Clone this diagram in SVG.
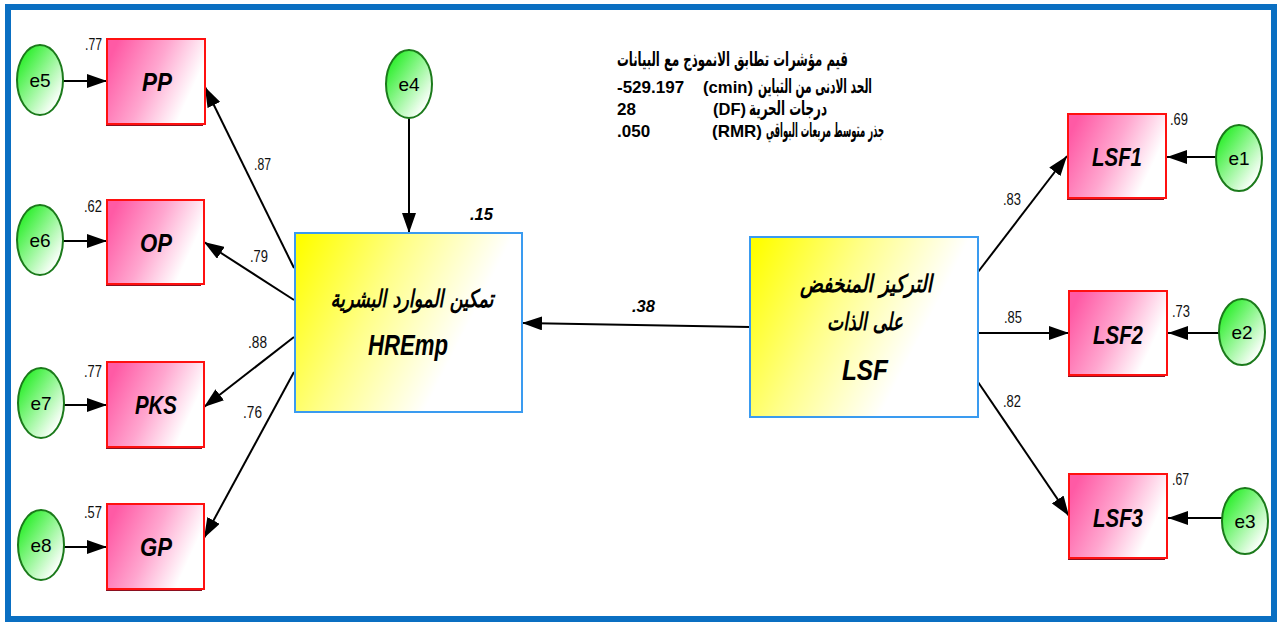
<svg xmlns="http://www.w3.org/2000/svg" width="1277" height="622" viewBox="0 0 1277 622">
<defs>
<linearGradient id="pink" x1="0" y1="0.3" x2="1" y2="0.7"><stop offset="0" stop-color="#ff5aa5"/><stop offset="0.45" stop-color="#ffa6cf"/><stop offset="0.85" stop-color="#ffffff"/></linearGradient>
<linearGradient id="yellow" x1="0" y1="0.1" x2="1" y2="0.5"><stop offset="0" stop-color="#ffff00"/><stop offset="0.4" stop-color="#ffff88"/><stop offset="0.8" stop-color="#ffffff"/></linearGradient>
<linearGradient id="green" x1="0" y1="0" x2="1" y2="1"><stop offset="0.1" stop-color="#22ee22"/><stop offset="0.85" stop-color="#ffffff"/></linearGradient>
<marker id="ah" viewBox="0 0 20 14" refX="20" refY="7" markerWidth="20" markerHeight="14" markerUnits="userSpaceOnUse" orient="auto"><path d="M0,0 L20,7 L0,14 Z" fill="#000"/></marker>
</defs>
<style>
.frame{fill:#fff;stroke:#0a6fc2;stroke-width:6}
.obs{fill:url(#pink);stroke:#ff1010;stroke-width:2}
.shd{fill:none;stroke:#8a1020;stroke-width:2}
.lat{fill:url(#yellow);stroke:#3a9bf0;stroke-width:2}
.err{fill:url(#green);stroke:#1b7a1b;stroke-width:2}
.c{stroke:#000;stroke-width:2;fill:none;marker-end:url(#ah)}
.lbl{font-family:"Liberation Sans Narrow","Liberation Sans",sans-serif;font-weight:bold;font-style:italic;font-size:26px;fill:#000;text-anchor:middle}
.ar{font-family:"DejaVu Sans","Noto Sans",sans-serif;font-weight:bold;font-style:italic;font-size:24px;fill:#000;text-anchor:middle}
.num{font-family:"Liberation Sans Narrow","Liberation Sans",sans-serif;font-size:17px;fill:#111}
.bnum{font-family:"Liberation Sans",sans-serif;font-size:17px;font-weight:bold;font-style:italic;fill:#000}
.e{font-family:"Liberation Sans Narrow","Liberation Sans",sans-serif;font-size:19px;fill:#000;text-anchor:middle}
.fit{font-family:"Liberation Sans","DejaVu Sans",sans-serif;font-size:17px;font-weight:bold;fill:#000}
.fa{font-family:"DejaVu Sans","Liberation Sans",sans-serif;font-size:20px;font-weight:bold;fill:#000;text-anchor:end}
</style>
<rect class="frame" x="8" y="7" width="1266" height="612"/>

<g id="connectors">
<line class="c" x1="63" y1="81" x2="107" y2="81"/>
<line class="c" x1="63" y1="241" x2="107" y2="241"/>
<line class="c" x1="64" y1="405" x2="107" y2="405"/>
<line class="c" x1="64" y1="547" x2="107" y2="547"/>
<line class="c" x1="409" y1="118" x2="409" y2="233"/>
<line class="c" x1="294" y1="268" x2="205" y2="87"/>
<line class="c" x1="294" y1="300" x2="204" y2="242"/>
<line class="c" x1="294" y1="337" x2="204" y2="407"/>
<line class="c" x1="294" y1="372" x2="204" y2="538"/>
<line class="c" x1="750" y1="327" x2="522" y2="323"/>
<line class="c" x1="978" y1="272" x2="1067" y2="156"/>
<line class="c" x1="978" y1="333" x2="1069" y2="333"/>
<line class="c" x1="978" y1="382" x2="1069" y2="516"/>
<line class="c" x1="1216" y1="157" x2="1167" y2="157"/>
<line class="c" x1="1220" y1="333" x2="1168" y2="333"/>
<line class="c" x1="1222" y1="518" x2="1168" y2="518"/>
</g>

<g id="PP"><path class="shd" d="M107,41 V125 H203"/><rect class="obs" x="107" y="39" width="98" height="85"/><text class="lbl" x="157" y="91" textLength="30" lengthAdjust="spacingAndGlyphs">PP</text></g>
<g id="OP"><path class="shd" d="M107,202 V285 H201"/><rect class="obs" x="107" y="200" width="97" height="84"/><text class="lbl" x="156" y="252" textLength="32" lengthAdjust="spacingAndGlyphs">OP</text></g>
<g id="PKS"><path class="shd" d="M107,364 V448 H202"/><rect class="obs" x="107" y="362" width="97" height="85"/><text class="lbl" x="156" y="414" textLength="42" lengthAdjust="spacingAndGlyphs">PKS</text></g>
<g id="GP"><path class="shd" d="M107,506 V590 H202"/><rect class="obs" x="107" y="504" width="97" height="85"/><text class="lbl" x="156" y="556" textLength="32" lengthAdjust="spacingAndGlyphs">GP</text></g>
<g id="LSF1"><path class="shd" d="M1068,116 V199 H1164"/><rect class="obs" x="1068" y="114" width="98" height="84"/><text class="lbl" x="1117" y="166" textLength="50" lengthAdjust="spacingAndGlyphs">LSF1</text></g>
<g id="LSF2"><path class="shd" d="M1069,293 V376 H1165"/><rect class="obs" x="1069" y="291" width="98" height="84"/><text class="lbl" x="1118" y="344" textLength="50" lengthAdjust="spacingAndGlyphs">LSF2</text></g>
<g id="LSF3"><path class="shd" d="M1069,476 V559 H1165"/><rect class="obs" x="1069" y="474" width="98" height="84"/><text class="lbl" x="1118" y="527" textLength="50" lengthAdjust="spacingAndGlyphs">LSF3</text></g>

<g id="HREmp"><rect class="lat" x="295" y="233" width="227" height="179"/>
<text class="ar" x="412" y="307" textLength="163" lengthAdjust="spacingAndGlyphs">تمكين الموارد البشرية</text>
<text class="lbl" x="408" y="355" style="font-size:30px" textLength="80" lengthAdjust="spacingAndGlyphs">HREmp</text></g>
<g id="LSF"><rect class="lat" x="750" y="237" width="228" height="180"/>
<text class="ar" x="866" y="292" textLength="132" lengthAdjust="spacingAndGlyphs">التركيز المنخفض</text>
<text class="ar" x="865" y="330" textLength="76" lengthAdjust="spacingAndGlyphs">على الذات</text>
<text class="lbl" x="865" y="380" style="font-size:30px" textLength="46" lengthAdjust="spacingAndGlyphs">LSF</text></g>

<g id="e5"><ellipse class="err" cx="40" cy="80" rx="23" ry="35"/><text class="e" x="40" y="87">e5</text></g>
<g id="e6"><ellipse class="err" cx="40" cy="240" rx="23" ry="35"/><text class="e" x="40" y="247">e6</text></g>
<g id="e7"><ellipse class="err" cx="41" cy="403" rx="23" ry="35"/><text class="e" x="41" y="410">e7</text></g>
<g id="e8"><ellipse class="err" cx="41" cy="545" rx="23" ry="35"/><text class="e" x="41" y="552">e8</text></g>
<g id="e4"><ellipse class="err" cx="409" cy="84" rx="23" ry="34"/><text class="e" x="409" y="91">e4</text></g>
<g id="e1"><ellipse class="err" cx="1239" cy="158" rx="23" ry="33"/><text class="e" x="1239" y="165">e1</text></g>
<g id="e2"><ellipse class="err" cx="1242" cy="332" rx="23" ry="33"/><text class="e" x="1242" y="339">e2</text></g>
<g id="e3"><ellipse class="err" cx="1245" cy="521" rx="23" ry="33"/><text class="e" x="1245" y="528">e3</text></g>

<g id="labels">
<text class="num" x="85" y="50" textLength="17" lengthAdjust="spacingAndGlyphs">.77</text>
<text class="num" x="84" y="212" textLength="18" lengthAdjust="spacingAndGlyphs">.62</text>
<text class="num" x="84" y="377" textLength="18" lengthAdjust="spacingAndGlyphs">.77</text>
<text class="num" x="84" y="518" textLength="18" lengthAdjust="spacingAndGlyphs">.57</text>
<text class="num" x="254" y="170" textLength="17" lengthAdjust="spacingAndGlyphs">.87</text>
<text class="num" x="250" y="262" textLength="18" lengthAdjust="spacingAndGlyphs">.79</text>
<text class="num" x="248" y="348" textLength="19" lengthAdjust="spacingAndGlyphs">.88</text>
<text class="num" x="243" y="418" textLength="19" lengthAdjust="spacingAndGlyphs">.76</text>
<text class="num" x="1003" y="205" textLength="18" lengthAdjust="spacingAndGlyphs">.83</text>
<text class="num" x="1004" y="323" textLength="18" lengthAdjust="spacingAndGlyphs">.85</text>
<text class="num" x="1003" y="407" textLength="18" lengthAdjust="spacingAndGlyphs">.82</text>
<text class="num" x="1170" y="125" textLength="18" lengthAdjust="spacingAndGlyphs">.69</text>
<text class="num" x="1172" y="317" textLength="18" lengthAdjust="spacingAndGlyphs">.73</text>
<text class="num" x="1172" y="485" textLength="17" lengthAdjust="spacingAndGlyphs">.67</text>
<text class="bnum" x="470" y="220" textLength="23" lengthAdjust="spacingAndGlyphs">.15</text>
<text class="bnum" x="632" y="312" textLength="23" lengthAdjust="spacingAndGlyphs">.38</text>
</g>

<g id="fit">
<text class="fa" x="848" y="66" textLength="231" lengthAdjust="spacingAndGlyphs">قيم مؤشرات تطابق الانموذج مع البيانات</text>
<text class="fit" x="617" y="93">-529.197</text>
<text class="fit" x="703" y="93" textLength="50" lengthAdjust="spacingAndGlyphs">(cmin)</text>
<text class="fa" x="872" y="93" textLength="114" lengthAdjust="spacingAndGlyphs">الحد الادنى من التباين</text>
<text class="fit" x="617" y="115">28</text>
<text class="fit" x="713" y="115" textLength="33" lengthAdjust="spacingAndGlyphs">(DF)</text>
<text class="fa" x="827" y="115" textLength="78" lengthAdjust="spacingAndGlyphs">درجات الحرية</text>
<text class="fit" x="617" y="137">.050</text>
<text class="fit" x="712" y="137" textLength="50" lengthAdjust="spacingAndGlyphs">(RMR)</text>
<text class="fa" x="884" y="137" textLength="118" lengthAdjust="spacingAndGlyphs">جذر متوسط مربعات البواقي</text>
</g>
</svg>
